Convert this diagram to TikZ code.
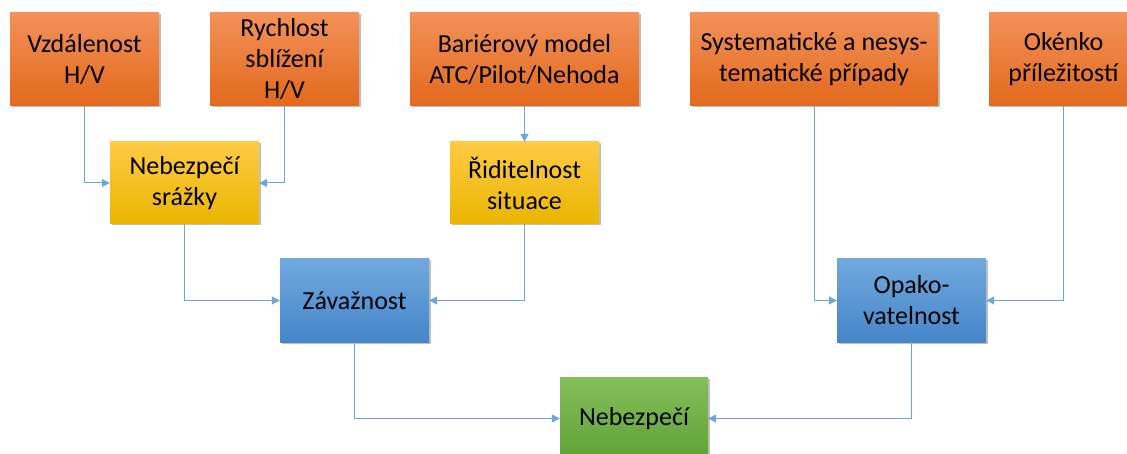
\documentclass[tikz,border=0pt]{standalone}
\usepackage{fontspec}
\setmainfont{Carlito}
\usetikzlibrary{arrows.meta,shadows}
\definecolor{orgtop}{HTML}{F39159}
\definecolor{orgbot}{HTML}{E2691C}
\definecolor{yeltop}{HTML}{FFCA45}
\definecolor{yelbot}{HTML}{E9B600}
\definecolor{blutop}{HTML}{71A9DE}
\definecolor{blubot}{HTML}{4585C9}
\definecolor{grntop}{HTML}{84BE5C}
\definecolor{grnbot}{HTML}{5FA235}
\definecolor{wire}{HTML}{6FA6DA}
\tikzset{
  card/.style={rectangle, inner sep=2pt, align=center, text=black,
    font=\fontsize{26}{31}\selectfont,
    drop shadow={shadow xshift=1.5pt, shadow yshift=-1.5pt, opacity=0.35, fill=black!70}},
  cause/.style={card, minimum height=93pt, top color=orgtop, bottom color=orgbot},
  factor/.style={card, minimum width=149pt, minimum height=82pt, top color=yeltop, bottom color=yelbot},
  aspect/.style={card, minimum width=149pt, minimum height=83pt, top color=blutop, bottom color=blubot},
  result/.style={card, minimum width=148pt, minimum height=83pt, top color=grntop, bottom color=grnbot},
  link/.style={draw=wire, line width=1pt, -{Triangle[length=8pt,width=8pt]}}
}
\begin{document}
\begin{tikzpicture}[x=1pt,y=-1pt]
\useasboundingbox (0,0) rectangle (1127,454);
\clip (0,0) rectangle (1127,454);
\fill[white] (0,0) rectangle (1127,454);

% top row: input causes
\node[cause, minimum width=149pt] (dist) at (84.5,59.5) {Vzdálenost\\H/V};
\node[cause, minimum width=149pt] (speed) at (284.5,59.5) {Rychlost\\sblížení\\H/V};
\node[cause, minimum width=229pt] (barrier) at (524.5,59.5) {Bariérový model\\ATC/Pilot/Nehoda};
\node[cause, minimum width=248pt] (cases) at (814,59.5) {Systematické a nesys-\\tematické případy};
\node[cause, minimum width=149pt] (window) at (1063.5,59.5) {Okénko\\příležitostí};

% second row
\node[factor] (collision) at (184.5,183) {Nebezpečí\\srážky};
\node[factor] (control) at (524.5,183) {Řiditelnost\\situace};

% third row
\node[aspect] (severity) at (354.5,300.5) {Závažnost};
\node[aspect] (repeat) at (911.5,300.5) {Opako-\\vatelnost};

% final result
\node[result] (hazard) at (634,418.5) {Nebezpečí};

% connectors
\draw[link] (dist.south) |- (collision.west);
\draw[link] (speed.south) |- (collision.east);
\draw[link] (barrier.south) -- (control.north);
\draw[link] (collision.south) |- (severity.west);
\draw[link] (control.south) |- (severity.east);
\draw[link] (cases.south) |- (repeat.west);
\draw[link] (window.south) |- (repeat.east);
\draw[link] (severity.south) |- (hazard.west);
\draw[link] (repeat.south) |- (hazard.east);
\end{tikzpicture}
\end{document}
